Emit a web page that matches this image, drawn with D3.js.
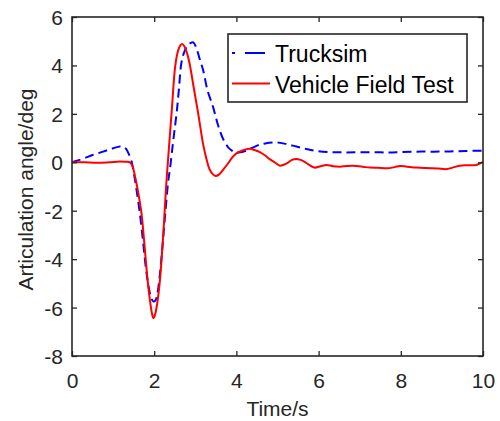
<!DOCTYPE html>
<html>
<head>
<meta charset="utf-8">
<script src="https://cdn.jsdelivr.net/npm/d3@7"></script>
<style>
  html, body { margin: 0; padding: 0; background: #fff; }
  svg { display: block; font-family: "Liberation Sans", Arial, sans-serif; }
</style>
</head>
<body>
<svg id="chart" width="500" height="421"></svg>
<script>
// Articulation angle over time: simulation vs. field measurement
const xTicks = [0, 2, 4, 6, 8, 10];
const yTicks = [-8, -6, -4, -2, 0, 2, 4, 6];
const seriesNames = ["Trucksim", "Vehicle Field Test"];

const trucksimT = [0, 0.1, 0.3, 0.5, 0.76, 1.0, 1.17, 1.25, 1.32, 1.38, 1.44, 1.5, 1.57, 1.65, 1.73, 1.8, 1.87, 1.93, 1.98, 2.03, 2.08, 2.14, 2.2, 2.27, 2.34, 2.38, 2.45, 2.5, 2.55, 2.6, 2.66, 2.72, 2.8, 2.88, 2.95, 3.02, 3.1, 3.19, 3.3, 3.43, 3.55, 3.68, 3.8, 3.9, 3.97, 4.05, 4.24, 4.49, 4.7, 4.97, 5.2, 5.46, 5.7, 5.94, 6.27, 6.6, 7.0, 7.5, 7.74, 8.0, 8.39, 8.8, 9.2, 9.6, 10];
const trucksimV = [0, 0.05, 0.17, 0.3, 0.44, 0.58, 0.65, 0.63, 0.54, 0.35, 0.1, -0.4, -1.14, -2.1, -3.3, -4.4, -5.2, -5.62, -5.75, -5.7, -5.4, -4.6, -3.5, -2.1, -0.8, -0.32, 0.7, 1.4, 2.1, 3.0, 4.09, 4.5, 4.8, 4.92, 4.95, 4.75, 4.3, 3.81, 2.95, 2.3, 1.55, 0.95, 0.62, 0.47, 0.4, 0.4, 0.48, 0.68, 0.78, 0.82, 0.76, 0.65, 0.55, 0.47, 0.42, 0.41, 0.41, 0.41, 0.40, 0.42, 0.44, 0.44, 0.45, 0.47, 0.48];

const fieldT = [0, 0.3, 0.6, 0.9, 1.17, 1.3, 1.41, 1.47, 1.53, 1.6, 1.69, 1.76, 1.83, 1.9, 1.95, 1.98, 2.02, 2.08, 2.14, 2.19, 2.24, 2.29, 2.35, 2.43, 2.51, 2.58, 2.64, 2.68, 2.73, 2.8, 2.86, 2.96, 3.07, 3.19, 3.27, 3.35, 3.43, 3.5, 3.58, 3.68, 3.8, 3.9, 4.0, 4.08, 4.2, 4.33, 4.45, 4.57, 4.7, 4.82, 4.95, 5.06, 5.15, 5.25, 5.35, 5.46, 5.56, 5.66, 5.78, 5.9, 6.05, 6.19, 6.35, 6.52, 6.7, 6.92, 7.1, 7.25, 7.45, 7.66, 7.85, 7.98, 8.15, 8.39, 8.6, 8.9, 9.12, 9.3, 9.44, 9.6, 9.84, 9.92, 10];
const fieldV = [0, 0.0, -0.02, 0.0, 0.03, 0.02, 0.0, -0.15, -0.55, -1.15, -2.1, -3.35, -4.7, -5.75, -6.28, -6.44, -6.3, -5.75, -4.86, -3.75, -2.45, -1.0, 0.4, 2.2, 3.95, 4.6, 4.84, 4.89, 4.8, 4.5, 4.09, 3.1, 2.02, 0.75, 0.15, -0.3, -0.5, -0.57, -0.5, -0.3, -0.04, 0.2, 0.37, 0.44, 0.52, 0.56, 0.5, 0.42, 0.28, 0.12, -0.02, -0.14, -0.1, -0.02, 0.1, 0.14, 0.1, 0.02, -0.12, -0.22, -0.16, -0.11, -0.16, -0.18, -0.15, -0.15, -0.19, -0.22, -0.23, -0.25, -0.2, -0.15, -0.18, -0.22, -0.24, -0.26, -0.28, -0.2, -0.14, -0.12, -0.11, -0.05, 0.02];

const svg = d3.select("#chart");
const margin = { left: 72, top: 17, right: 17, bottom: 65 };
const W = 500 - margin.left - margin.right;
const H = 421 - margin.top - margin.bottom;
const axisColor = "#262626";

const x = d3.scaleLinear().domain([0, 10]).range([0, W]);
const y = d3.scaleLinear().domain([-8, 6]).range([H, 0]);

const g = svg.append("g").attr("transform", `translate(${margin.left},${margin.top})`);

// Curves
const line = d3.line().x(d => x(d[0])).y(d => y(d[1])).curve(d3.curveCatmullRom.alpha(0.5));
const trucksim = trucksimT.map((t, i) => [t, trucksimV[i]]);
const field = fieldT.map((t, i) => [t, fieldV[i]]);

g.append("path").datum(trucksim)
  .attr("d", line).attr("fill", "none")
  .attr("stroke", "#0000ff").attr("stroke-width", 2)
  .attr("stroke-dasharray", "9,5");
g.append("path").datum(field)
  .attr("d", line).attr("fill", "none")
  .attr("stroke", "#ff0000").attr("stroke-width", 2);

// Axes with inward ticks on all four sides
function styleAxis(sel) {
  sel.select(".domain").remove();
  sel.selectAll(".tick line").attr("stroke", axisColor).attr("stroke-width", 1.3);
  sel.selectAll(".tick text").attr("fill", axisColor).attr("font-size", 21);
}
const xAxis = g.append("g").attr("transform", `translate(0,${H})`)
  .call(d3.axisBottom(x).tickValues(xTicks).tickSize(-5).tickSizeOuter(0).tickFormat(d3.format("d")));
styleAxis(xAxis);
xAxis.selectAll(".tick text").attr("y", 32).attr("dy", 0);

const xTop = g.append("g")
  .call(d3.axisTop(x).tickValues(xTicks).tickSize(-5).tickSizeOuter(0).tickFormat(""));
styleAxis(xTop);

const yAxis = g.append("g")
  .call(d3.axisLeft(y).tickValues(yTicks).tickSize(-5).tickSizeOuter(0).tickFormat(d3.format("d")));
styleAxis(yAxis);
yAxis.selectAll(".tick text").attr("x", -9).attr("dy", "0.36em").text(d => d < 0 ? "-" + Math.abs(d) : d);

const yRight = g.append("g").attr("transform", `translate(${W},0)`)
  .call(d3.axisRight(y).tickValues(yTicks).tickSize(-5).tickSizeOuter(0).tickFormat(""));
styleAxis(yRight);

// Box frame
g.append("rect").attr("x", 0).attr("y", 0).attr("width", W).attr("height", H)
  .attr("fill", "none").attr("stroke", axisColor).attr("stroke-width", 1.6);

// Axis titles
svg.append("text")
  .attr("x", margin.left + W / 2).attr("y", 416)
  .attr("text-anchor", "middle").attr("font-size", 21).attr("fill", axisColor)
  .text("Time/s");
svg.append("text")
  .attr("transform", `translate(33,${margin.top + H / 2 + 3}) rotate(-90)`)
  .attr("text-anchor", "middle").attr("font-size", 21).attr("fill", axisColor)
  .text("Articulation angle/deg");

// Legend
const legend = svg.append("g");
legend.append("rect").attr("x", 228).attr("y", 34).attr("width", 239).attr("height", 68)
  .attr("fill", "#fff").attr("stroke", axisColor).attr("stroke-width", 1.6);
const legendItems = [
  { name: seriesNames[0], color: "#0000ff", dash: "3,10,17,0", cy: 53, base: 61.7 },
  { name: seriesNames[1], color: "#ff0000", dash: null, cy: 83.5, base: 92.5 }
];
legendItems.forEach(it => {
  legend.append("line").attr("x1", 232).attr("x2", 270).attr("y1", it.cy).attr("y2", it.cy)
    .attr("stroke", it.color).attr("stroke-width", 2)
    .attr("stroke-dasharray", it.dash);
  legend.append("text").attr("x", 275).attr("y", it.base)
    .attr("font-size", 23).attr("fill", "#000").text(it.name);
});
</script>
</body>
</html>
